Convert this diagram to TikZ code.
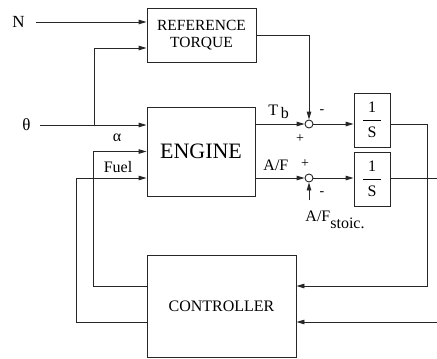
\documentclass[tikz,border=0pt]{standalone}
\usepackage{fontspec}
\setmainfont{Liberation Serif}
\usetikzlibrary{arrows.meta,calc}
\begin{document}
\begin{tikzpicture}[x=1bp,y=-1bp,
  line width=0.9bp, draw=black!85,
  box/.style={draw, rectangle, inner sep=0pt, align=center},
  sumj/.style={draw, circle, minimum size=8bp, inner sep=0pt},
  arr/.style={-{Triangle[length=8bp,width=4.5bp]}},
  lbl/.style={inner sep=0pt, font=\fontsize{16bp}{18bp}\selectfont},
  sgn/.style={inner sep=0pt, font=\fontsize{14bp}{16bp}\selectfont}]
\useasboundingbox (0,0) rectangle (437,358);

% blocks
\node[box, minimum width=109bp, minimum height=54bp, font=\fontsize{15.5bp}{17bp}\selectfont] (ref) at (201.5,35) {REFERENCE\\TORQUE};
\node[box, minimum width=108bp, minimum height=89bp, font=\fontsize{22bp}{24bp}\selectfont] (eng) at (201,151.5) {ENGINE};
\node[box, minimum width=149bp, minimum height=102bp, font=\fontsize{16bp}{18bp}\selectfont] (ctl) at (221.5,306) {CONTROLLER};
\node[sumj] (s1) at (309,124) {};
\node[sumj] (s2) at (309,178) {};
\node[box, minimum width=36bp, minimum height=54bp, font=\fontsize{16bp}{18bp}\selectfont] (int1) at (372,120)
  {\renewcommand{\arraystretch}{1.4}\setlength{\tabcolsep}{4.5bp}\begin{tabular}{c}1\\\hline S\end{tabular}};
\node[box, minimum width=36bp, minimum height=54bp, font=\fontsize{16bp}{18bp}\selectfont] (int2) at (372,179)
  {\renewcommand{\arraystretch}{1.4}\setlength{\tabcolsep}{4.5bp}\begin{tabular}{c}1\\\hline S\end{tabular}};

% input labels
\node[lbl, anchor=east, font=\fontsize{17bp}{19bp}\selectfont] (N) at (25,22) {N};
\node[lbl, anchor=east, font=\fontsize{17bp}{19bp}\selectfont] (th) at (31,125) {θ};
\node[lbl] (alpha) at (117,138) {α};
\node[lbl] (fuel) at (118,167) {Fuel};
\node[lbl, anchor=west] (tb) at (268,112) {T\,\raisebox{-3bp}{b}};
\node[lbl, anchor=west] (af) at (263,165) {A/F};
\node[lbl, anchor=west] (stoic) at (305,220) {A/F\raisebox{-7bp}{stoic.}};

% signs
\node[sgn] (m1) at (322,112) {-};
\node[sgn] (p1) at (300,139) {+};
\node[sgn] (p2) at (305,164) {+};
\node[sgn] (m2) at (322,194) {-};

% free ends
\coordinate (b1) at (94,125);
\coordinate (e2) at (437,178);
\coordinate (e3) at (437,322);

% connectors
\draw[arr, shorten <=11bp] (N.east) -- ($(ref.west)+(0,-13)$);
\draw[arr, shorten <=9bp] (th.east) -- ($(eng.west)+(0,-26.5)$);
\draw[arr] (b1) |- ($(ref.west)+(0,13)$);
\draw[arr] ($(ctl.west)+(0,-20)$) -- ++(-53,0) |- (eng.west);
\draw[arr] ($(ctl.west)+(0,16)$) -- ++(-70,0) |- ($(eng.west)+(0,26.5)$);

\draw[arr] (eng.east |- s1) -- (s1.west);
\draw[arr] (eng.east |- s2) -- (s2.west);
\draw[arr] (ref.east) -| (s1.north);
\draw[arr] ($(s2.south)+(0,18)$) -- (s2.south);
\draw[arr] (s1.east) -- (int1.west |- s1);
\draw[arr] (s2.east) -- (int2.west |- s2);

\draw[arr] (int1.east |- s1) -- ++(37,0) |- ($(ctl.east)+(0,-20)$);
\draw (int2.east |- s2) -- (e2);
\draw[arr] (e3) -- (ctl.east |- e3);
\end{tikzpicture}
\end{document}
